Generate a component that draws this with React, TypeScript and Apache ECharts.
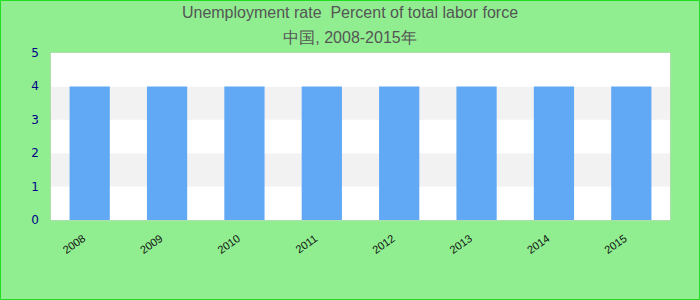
import React, { useEffect, useRef } from "react";
import * as echarts from "echarts";

const titleLines = ["Unemployment rate  Percent of total labor force", "中国, 2008-2015年"];
const categories = ["2008", "2009", "2010", "2011", "2012", "2013", "2014", "2015"];
const values = [4, 4, 4, 4, 4, 4, 4, 4];

export default function App() {
  const ref = useRef<HTMLDivElement>(null);
  useEffect(() => {
    document.body.style.margin = "0";
    const chart = echarts.init(ref.current!, null, { renderer: "svg" });
    chart.setOption({
      animation: false,
      backgroundColor: "#90EE90",
      title: {
        text: titleLines.join("\n"),
        left: "center",
        top: 0,
        padding: 0,
        textStyle: {
          color: "#555555",
          fontSize: 16,
          fontWeight: "normal",
          fontFamily: "Liberation Sans, Arial, sans-serif",
          lineHeight: 25,
        },
      },
      graphic: [
        {
          type: "rect",
          shape: { x: 0.5, y: 0.5, width: 699, height: 299 },
          style: { fill: "none", stroke: "#22dd22", lineWidth: 1 },
          silent: true,
        },
      ],
      grid: {
        left: 51,
        right: 30,
        top: 53,
        bottom: 80,
        show: true,
        backgroundColor: "#ffffff",
        borderColor: "#cccccc",
        borderWidth: 1,
      },
      xAxis: {
        type: "category",
        data: categories,
        axisLine: { show: false },
        axisTick: { show: false },
        axisLabel: {
          rotate: 35,
          color: "#111111",
          fontSize: 11,
          fontFamily: "Liberation Sans, Arial, sans-serif",
          margin: 13,
          padding: [0, 7, 8, 0],
        },
      },
      yAxis: {
        type: "value",
        min: 0,
        max: 5,
        interval: 1,
        axisLine: { show: false },
        axisTick: { show: false },
        splitLine: { show: false },
        splitArea: { show: true, areaStyle: { color: ["#ffffff", "#f2f2f2"] } },
        axisLabel: {
          color: "#00008b",
          fontSize: 12,
          fontFamily: "DejaVu Sans, sans-serif",
          margin: 12,
        },
      },
      series: [
        {
          type: "bar",
          data: values,
          barWidth: "52%",
          itemStyle: { color: "#61A8F5" },
        },
      ],
    });
    return () => chart.dispose();
  }, []);
  return <div ref={ref} style={{ width: 700, height: 300 }} />;
}
